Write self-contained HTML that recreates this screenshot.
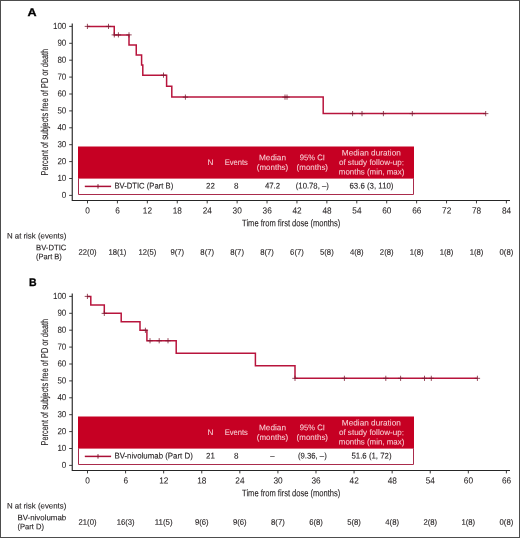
<!DOCTYPE html>
<html lang="en">
<head>
<meta charset="utf-8">
<title>Progression-free survival</title>
<style>
html,body{margin:0;padding:0;background:#fff;}
body{width:520px;height:538px;overflow:hidden;}
svg{display:block;font-family:'Liberation Sans', 'DejaVu Sans', sans-serif;}
</style>
</head>
<body>
<svg width="520" height="538" viewBox="0 0 520 538" fill="#231F20">
<rect x="0" y="0" width="520" height="538" fill="#fff"/>
<g transform="translate(0,0)">
<text transform="translate(27.50,15.90) rotate(0.05)" font-size="10.9" textLength="9.10" lengthAdjust="spacingAndGlyphs" fill="#000" font-weight="bold" stroke="#000" stroke-width="0.3">A</text>
<path d="M72.25 23.5V200.45H510" fill="none" stroke="#262626" stroke-width="1.15"/>
<path d="M69.2 26.40H72M69.2 43.30H72M69.2 60.20H72M69.2 77.10H72M69.2 94.00H72M69.2 110.90H72M69.2 127.80H72M69.2 144.70H72M69.2 161.60H72M69.2 178.50H72M69.2 195.40H72M87.50 200.5V203.4M117.42 200.5V203.4M147.34 200.5V203.4M177.26 200.5V203.4M207.19 200.5V203.4M237.11 200.5V203.4M267.03 200.5V203.4M296.95 200.5V203.4M326.87 200.5V203.4M356.79 200.5V203.4M386.71 200.5V203.4M416.64 200.5V203.4M446.56 200.5V203.4M476.48 200.5V203.4M506.40 200.5V203.4" fill="none" stroke="#262626" stroke-width="0.9"/>
<text transform="translate(66.30,28.95) rotate(0.05)" font-size="8.9" text-anchor="end" textLength="13.35" lengthAdjust="spacingAndGlyphs" stroke="#231F20" stroke-width="0.05">100</text>
<text transform="translate(66.30,45.85) rotate(0.05)" font-size="8.9" text-anchor="end" textLength="8.90" lengthAdjust="spacingAndGlyphs" stroke="#231F20" stroke-width="0.05">90</text>
<text transform="translate(66.30,62.75) rotate(0.05)" font-size="8.9" text-anchor="end" textLength="8.90" lengthAdjust="spacingAndGlyphs" stroke="#231F20" stroke-width="0.05">80</text>
<text transform="translate(66.30,79.65) rotate(0.05)" font-size="8.9" text-anchor="end" textLength="8.90" lengthAdjust="spacingAndGlyphs" stroke="#231F20" stroke-width="0.05">70</text>
<text transform="translate(66.30,96.55) rotate(0.05)" font-size="8.9" text-anchor="end" textLength="8.90" lengthAdjust="spacingAndGlyphs" stroke="#231F20" stroke-width="0.05">60</text>
<text transform="translate(66.30,113.45) rotate(0.05)" font-size="8.9" text-anchor="end" textLength="8.90" lengthAdjust="spacingAndGlyphs" stroke="#231F20" stroke-width="0.05">50</text>
<text transform="translate(66.30,130.35) rotate(0.05)" font-size="8.9" text-anchor="end" textLength="8.90" lengthAdjust="spacingAndGlyphs" stroke="#231F20" stroke-width="0.05">40</text>
<text transform="translate(66.30,147.25) rotate(0.05)" font-size="8.9" text-anchor="end" textLength="8.90" lengthAdjust="spacingAndGlyphs" stroke="#231F20" stroke-width="0.05">30</text>
<text transform="translate(66.30,164.15) rotate(0.05)" font-size="8.9" text-anchor="end" textLength="8.90" lengthAdjust="spacingAndGlyphs" stroke="#231F20" stroke-width="0.05">20</text>
<text transform="translate(66.30,181.05) rotate(0.05)" font-size="8.9" text-anchor="end" textLength="8.90" lengthAdjust="spacingAndGlyphs" stroke="#231F20" stroke-width="0.05">10</text>
<text transform="translate(66.30,197.95) rotate(0.05)" font-size="8.9" text-anchor="end" textLength="4.45" lengthAdjust="spacingAndGlyphs" stroke="#231F20" stroke-width="0.05">0</text>
<text transform="translate(87.60,213.45) rotate(0.05)" font-size="8.9" text-anchor="middle" textLength="4.60" lengthAdjust="spacingAndGlyphs" stroke="#231F20" stroke-width="0.05">0</text>
<text transform="translate(117.52,213.45) rotate(0.05)" font-size="8.9" text-anchor="middle" textLength="4.60" lengthAdjust="spacingAndGlyphs" stroke="#231F20" stroke-width="0.05">6</text>
<text transform="translate(147.44,213.45) rotate(0.05)" font-size="8.9" text-anchor="middle" textLength="9.20" lengthAdjust="spacingAndGlyphs" stroke="#231F20" stroke-width="0.05">12</text>
<text transform="translate(177.36,213.45) rotate(0.05)" font-size="8.9" text-anchor="middle" textLength="9.20" lengthAdjust="spacingAndGlyphs" stroke="#231F20" stroke-width="0.05">18</text>
<text transform="translate(207.29,213.45) rotate(0.05)" font-size="8.9" text-anchor="middle" textLength="9.20" lengthAdjust="spacingAndGlyphs" stroke="#231F20" stroke-width="0.05">24</text>
<text transform="translate(237.21,213.45) rotate(0.05)" font-size="8.9" text-anchor="middle" textLength="9.20" lengthAdjust="spacingAndGlyphs" stroke="#231F20" stroke-width="0.05">30</text>
<text transform="translate(267.13,213.45) rotate(0.05)" font-size="8.9" text-anchor="middle" textLength="9.20" lengthAdjust="spacingAndGlyphs" stroke="#231F20" stroke-width="0.05">36</text>
<text transform="translate(297.05,213.45) rotate(0.05)" font-size="8.9" text-anchor="middle" textLength="9.20" lengthAdjust="spacingAndGlyphs" stroke="#231F20" stroke-width="0.05">42</text>
<text transform="translate(326.97,213.45) rotate(0.05)" font-size="8.9" text-anchor="middle" textLength="9.20" lengthAdjust="spacingAndGlyphs" stroke="#231F20" stroke-width="0.05">48</text>
<text transform="translate(356.89,213.45) rotate(0.05)" font-size="8.9" text-anchor="middle" textLength="9.20" lengthAdjust="spacingAndGlyphs" stroke="#231F20" stroke-width="0.05">54</text>
<text transform="translate(386.81,213.45) rotate(0.05)" font-size="8.9" text-anchor="middle" textLength="9.20" lengthAdjust="spacingAndGlyphs" stroke="#231F20" stroke-width="0.05">60</text>
<text transform="translate(416.74,213.45) rotate(0.05)" font-size="8.9" text-anchor="middle" textLength="9.20" lengthAdjust="spacingAndGlyphs" stroke="#231F20" stroke-width="0.05">66</text>
<text transform="translate(446.66,213.45) rotate(0.05)" font-size="8.9" text-anchor="middle" textLength="9.20" lengthAdjust="spacingAndGlyphs" stroke="#231F20" stroke-width="0.05">72</text>
<text transform="translate(476.58,213.45) rotate(0.05)" font-size="8.9" text-anchor="middle" textLength="9.20" lengthAdjust="spacingAndGlyphs" stroke="#231F20" stroke-width="0.05">78</text>
<text transform="translate(506.50,213.45) rotate(0.05)" font-size="8.9" text-anchor="middle" textLength="9.20" lengthAdjust="spacingAndGlyphs" stroke="#231F20" stroke-width="0.05">84</text>
<text transform="translate(242.10,226.20) rotate(0.05)" font-size="9.5" textLength="98.20" lengthAdjust="spacingAndGlyphs" stroke="#231F20" stroke-width="0.12">Time from first dose (months)</text>
<text transform="translate(48,175.4) rotate(-89.95)" font-size="10" textLength="126.6" lengthAdjust="spacingAndGlyphs" stroke="#231F20" stroke-width="0.12">Percent of subjects free of PD or death</text>
<path d="M87.40 26.40H114.25V34.88H129.00V44.95H136.25V55.01H141.60V65.09H142.80V75.16H166.60V86.15H171.80V97.12H323.20V113.61H485.70" fill="none" stroke="#B8143C" stroke-width="1.5" stroke-linejoin="miter"/>
<path d="M87.40 23.80V29.00M84.70 26.40H90.10M108.50 23.80V29.00M105.80 26.40H111.20M114.30 32.28V37.48M111.60 34.88H117.00M118.40 32.28V37.48M115.70 34.88H121.10M129.00 32.28V37.48M126.30 34.88H131.70M163.50 72.56V77.76M160.80 75.16H166.20M185.40 94.52V99.72M182.70 97.12H188.10M285.00 94.52V99.72M282.30 97.12H287.70M287.00 94.52V99.72M284.30 97.12H289.70M352.60 111.01V116.21M349.90 113.61H355.30M362.00 111.01V116.21M359.30 113.61H364.70M383.40 111.01V116.21M380.70 113.61H386.10M412.30 111.01V116.21M409.60 113.61H415.00M485.70 111.01V116.21M483.00 113.61H488.40" fill="none" stroke="#7E1A32" stroke-width="0.8"/>
<rect x="78" y="146.5" width="336" height="48.5" fill="#fff"/>
<rect x="78" y="146.5" width="336" height="32.1" fill="#C60023"/>
<path d="M78.5 178.3V194.5H413.5V178.3" fill="none" stroke="#AA2C4C" stroke-width="1"/>
<path d="M84.8 186.4H111.1" fill="none" stroke="#AA0F36" stroke-width="1.5"/>
<path d="M98 184.2V188.6" fill="none" stroke="#7E1A32" stroke-width="1"/>
<text transform="translate(210.40,165.10) rotate(0.05)" font-size="8.1" text-anchor="middle" textLength="5.90" lengthAdjust="spacingAndGlyphs" fill="#F8CFD5" stroke="#F8CFD5" stroke-width="0.06">N</text>
<text transform="translate(236.30,165.10) rotate(0.05)" font-size="8.1" text-anchor="middle" textLength="23.20" lengthAdjust="spacingAndGlyphs" fill="#F8CFD5" stroke="#F8CFD5" stroke-width="0.06">Events</text>
<text transform="translate(272.50,160.25) rotate(0.05)" font-size="8.1" text-anchor="middle" textLength="27.00" lengthAdjust="spacingAndGlyphs" fill="#F8CFD5" stroke="#F8CFD5" stroke-width="0.06">Median</text>
<text transform="translate(272.50,170.10) rotate(0.05)" font-size="8.1" text-anchor="middle" textLength="31.40" lengthAdjust="spacingAndGlyphs" fill="#F8CFD5" stroke="#F8CFD5" stroke-width="0.06">(months)</text>
<text transform="translate(312.30,160.25) rotate(0.05)" font-size="8.1" text-anchor="middle" textLength="25.00" lengthAdjust="spacingAndGlyphs" fill="#F8CFD5" stroke="#F8CFD5" stroke-width="0.06">95% CI</text>
<text transform="translate(312.30,170.10) rotate(0.05)" font-size="8.1" text-anchor="middle" textLength="31.40" lengthAdjust="spacingAndGlyphs" fill="#F8CFD5" stroke="#F8CFD5" stroke-width="0.06">(months)</text>
<text transform="translate(371.30,155.60) rotate(0.05)" font-size="8.1" text-anchor="middle" textLength="59.00" lengthAdjust="spacingAndGlyphs" fill="#F8CFD5" stroke="#F8CFD5" stroke-width="0.06">Median duration</text>
<text transform="translate(371.40,165.10) rotate(0.05)" font-size="8.1" text-anchor="middle" textLength="65.00" lengthAdjust="spacingAndGlyphs" fill="#F8CFD5" stroke="#F8CFD5" stroke-width="0.06">of study follow-up:</text>
<text transform="translate(371.60,174.60) rotate(0.05)" font-size="8.1" text-anchor="middle" textLength="65.50" lengthAdjust="spacingAndGlyphs" fill="#F8CFD5" stroke="#F8CFD5" stroke-width="0.06">months (min, max)</text>
<text transform="translate(114.40,188.50) rotate(0.05)" font-size="8.2" textLength="58.80" lengthAdjust="spacingAndGlyphs" stroke="#231F20" stroke-width="0.12">BV-DTIC (Part B)</text>
<text transform="translate(210.40,188.50) rotate(0.05)" font-size="8.2" text-anchor="middle" textLength="8.80" lengthAdjust="spacingAndGlyphs" stroke="#231F20" stroke-width="0.12">22</text>
<text transform="translate(236.30,188.50) rotate(0.05)" font-size="8.2" text-anchor="middle" textLength="4.50" lengthAdjust="spacingAndGlyphs" stroke="#231F20" stroke-width="0.12">8</text>
<text transform="translate(272.50,188.50) rotate(0.05)" font-size="8.2" text-anchor="middle" textLength="15.20" lengthAdjust="spacingAndGlyphs" stroke="#231F20" stroke-width="0.12">47.2</text>
<text transform="translate(312.30,188.50) rotate(0.05)" font-size="8.2" text-anchor="middle" textLength="33.00" lengthAdjust="spacingAndGlyphs" stroke="#231F20" stroke-width="0.12">(10.78, –)</text>
<text transform="translate(371.50,188.50) rotate(0.05)" font-size="8.2" text-anchor="middle" textLength="44.00" lengthAdjust="spacingAndGlyphs" stroke="#231F20" stroke-width="0.12">63.6 (3, 110)</text>
<text transform="translate(6.90,238.45) rotate(0.05)" font-size="8.0" textLength="59.40" lengthAdjust="spacingAndGlyphs" stroke="#231F20" stroke-width="0.12">N at risk (events)</text>
<text transform="translate(36.00,250.20) rotate(0.05)" font-size="8.0" textLength="30.40" lengthAdjust="spacingAndGlyphs" stroke="#231F20" stroke-width="0.12">BV-DTIC</text>
<text transform="translate(36.00,259.30) rotate(0.05)" font-size="8.0" textLength="25.80" lengthAdjust="spacingAndGlyphs" stroke="#231F20" stroke-width="0.12">(Part B)</text>
<text transform="translate(87.50,254.70) rotate(0.05)" font-size="8.0" text-anchor="middle" textLength="17.90" lengthAdjust="spacingAndGlyphs" stroke="#231F20" stroke-width="0.12">22(0)</text>
<text transform="translate(117.42,254.70) rotate(0.05)" font-size="8.0" text-anchor="middle" textLength="17.90" lengthAdjust="spacingAndGlyphs" stroke="#231F20" stroke-width="0.12">18(1)</text>
<text transform="translate(147.34,254.70) rotate(0.05)" font-size="8.0" text-anchor="middle" textLength="17.90" lengthAdjust="spacingAndGlyphs" stroke="#231F20" stroke-width="0.12">12(5)</text>
<text transform="translate(177.26,254.70) rotate(0.05)" font-size="8.0" text-anchor="middle" textLength="13.70" lengthAdjust="spacingAndGlyphs" stroke="#231F20" stroke-width="0.12">9(7)</text>
<text transform="translate(207.19,254.70) rotate(0.05)" font-size="8.0" text-anchor="middle" textLength="13.70" lengthAdjust="spacingAndGlyphs" stroke="#231F20" stroke-width="0.12">8(7)</text>
<text transform="translate(237.11,254.70) rotate(0.05)" font-size="8.0" text-anchor="middle" textLength="13.70" lengthAdjust="spacingAndGlyphs" stroke="#231F20" stroke-width="0.12">8(7)</text>
<text transform="translate(267.03,254.70) rotate(0.05)" font-size="8.0" text-anchor="middle" textLength="13.70" lengthAdjust="spacingAndGlyphs" stroke="#231F20" stroke-width="0.12">8(7)</text>
<text transform="translate(296.95,254.70) rotate(0.05)" font-size="8.0" text-anchor="middle" textLength="13.70" lengthAdjust="spacingAndGlyphs" stroke="#231F20" stroke-width="0.12">6(7)</text>
<text transform="translate(326.87,254.70) rotate(0.05)" font-size="8.0" text-anchor="middle" textLength="13.70" lengthAdjust="spacingAndGlyphs" stroke="#231F20" stroke-width="0.12">5(8)</text>
<text transform="translate(356.79,254.70) rotate(0.05)" font-size="8.0" text-anchor="middle" textLength="13.70" lengthAdjust="spacingAndGlyphs" stroke="#231F20" stroke-width="0.12">4(8)</text>
<text transform="translate(386.71,254.70) rotate(0.05)" font-size="8.0" text-anchor="middle" textLength="13.70" lengthAdjust="spacingAndGlyphs" stroke="#231F20" stroke-width="0.12">2(8)</text>
<text transform="translate(416.64,254.70) rotate(0.05)" font-size="8.0" text-anchor="middle" textLength="13.70" lengthAdjust="spacingAndGlyphs" stroke="#231F20" stroke-width="0.12">1(8)</text>
<text transform="translate(446.56,254.70) rotate(0.05)" font-size="8.0" text-anchor="middle" textLength="13.70" lengthAdjust="spacingAndGlyphs" stroke="#231F20" stroke-width="0.12">1(8)</text>
<text transform="translate(476.48,254.70) rotate(0.05)" font-size="8.0" text-anchor="middle" textLength="13.70" lengthAdjust="spacingAndGlyphs" stroke="#231F20" stroke-width="0.12">1(8)</text>
<text transform="translate(506.40,254.70) rotate(0.05)" font-size="8.0" text-anchor="middle" textLength="13.70" lengthAdjust="spacingAndGlyphs" stroke="#231F20" stroke-width="0.12">0(8)</text>
</g>
<g transform="translate(0,270)">
<text transform="translate(28.90,15.90) rotate(0.05)" font-size="10.9" textLength="7.60" lengthAdjust="spacingAndGlyphs" fill="#000" font-weight="bold" stroke="#000" stroke-width="0.3">B</text>
<path d="M72.25 23.5V200.45H510" fill="none" stroke="#262626" stroke-width="1.15"/>
<path d="M69.2 26.40H72M69.2 43.30H72M69.2 60.20H72M69.2 77.10H72M69.2 94.00H72M69.2 110.90H72M69.2 127.80H72M69.2 144.70H72M69.2 161.60H72M69.2 178.50H72M69.2 195.40H72M87.50 200.5V203.4M125.58 200.5V203.4M163.66 200.5V203.4M201.75 200.5V203.4M239.83 200.5V203.4M277.91 200.5V203.4M315.99 200.5V203.4M354.07 200.5V203.4M392.15 200.5V203.4M430.24 200.5V203.4M468.32 200.5V203.4M506.40 200.5V203.4" fill="none" stroke="#262626" stroke-width="0.9"/>
<text transform="translate(66.30,28.95) rotate(0.05)" font-size="8.9" text-anchor="end" textLength="13.35" lengthAdjust="spacingAndGlyphs" stroke="#231F20" stroke-width="0.05">100</text>
<text transform="translate(66.30,45.85) rotate(0.05)" font-size="8.9" text-anchor="end" textLength="8.90" lengthAdjust="spacingAndGlyphs" stroke="#231F20" stroke-width="0.05">90</text>
<text transform="translate(66.30,62.75) rotate(0.05)" font-size="8.9" text-anchor="end" textLength="8.90" lengthAdjust="spacingAndGlyphs" stroke="#231F20" stroke-width="0.05">80</text>
<text transform="translate(66.30,79.65) rotate(0.05)" font-size="8.9" text-anchor="end" textLength="8.90" lengthAdjust="spacingAndGlyphs" stroke="#231F20" stroke-width="0.05">70</text>
<text transform="translate(66.30,96.55) rotate(0.05)" font-size="8.9" text-anchor="end" textLength="8.90" lengthAdjust="spacingAndGlyphs" stroke="#231F20" stroke-width="0.05">60</text>
<text transform="translate(66.30,113.45) rotate(0.05)" font-size="8.9" text-anchor="end" textLength="8.90" lengthAdjust="spacingAndGlyphs" stroke="#231F20" stroke-width="0.05">50</text>
<text transform="translate(66.30,130.35) rotate(0.05)" font-size="8.9" text-anchor="end" textLength="8.90" lengthAdjust="spacingAndGlyphs" stroke="#231F20" stroke-width="0.05">40</text>
<text transform="translate(66.30,147.25) rotate(0.05)" font-size="8.9" text-anchor="end" textLength="8.90" lengthAdjust="spacingAndGlyphs" stroke="#231F20" stroke-width="0.05">30</text>
<text transform="translate(66.30,164.15) rotate(0.05)" font-size="8.9" text-anchor="end" textLength="8.90" lengthAdjust="spacingAndGlyphs" stroke="#231F20" stroke-width="0.05">20</text>
<text transform="translate(66.30,181.05) rotate(0.05)" font-size="8.9" text-anchor="end" textLength="8.90" lengthAdjust="spacingAndGlyphs" stroke="#231F20" stroke-width="0.05">10</text>
<text transform="translate(66.30,197.95) rotate(0.05)" font-size="8.9" text-anchor="end" textLength="4.45" lengthAdjust="spacingAndGlyphs" stroke="#231F20" stroke-width="0.05">0</text>
<text transform="translate(87.60,213.45) rotate(0.05)" font-size="8.9" text-anchor="middle" textLength="4.60" lengthAdjust="spacingAndGlyphs" stroke="#231F20" stroke-width="0.05">0</text>
<text transform="translate(125.68,213.45) rotate(0.05)" font-size="8.9" text-anchor="middle" textLength="4.60" lengthAdjust="spacingAndGlyphs" stroke="#231F20" stroke-width="0.05">6</text>
<text transform="translate(163.76,213.45) rotate(0.05)" font-size="8.9" text-anchor="middle" textLength="9.20" lengthAdjust="spacingAndGlyphs" stroke="#231F20" stroke-width="0.05">12</text>
<text transform="translate(201.85,213.45) rotate(0.05)" font-size="8.9" text-anchor="middle" textLength="9.20" lengthAdjust="spacingAndGlyphs" stroke="#231F20" stroke-width="0.05">18</text>
<text transform="translate(239.93,213.45) rotate(0.05)" font-size="8.9" text-anchor="middle" textLength="9.20" lengthAdjust="spacingAndGlyphs" stroke="#231F20" stroke-width="0.05">24</text>
<text transform="translate(278.01,213.45) rotate(0.05)" font-size="8.9" text-anchor="middle" textLength="9.20" lengthAdjust="spacingAndGlyphs" stroke="#231F20" stroke-width="0.05">30</text>
<text transform="translate(316.09,213.45) rotate(0.05)" font-size="8.9" text-anchor="middle" textLength="9.20" lengthAdjust="spacingAndGlyphs" stroke="#231F20" stroke-width="0.05">36</text>
<text transform="translate(354.17,213.45) rotate(0.05)" font-size="8.9" text-anchor="middle" textLength="9.20" lengthAdjust="spacingAndGlyphs" stroke="#231F20" stroke-width="0.05">42</text>
<text transform="translate(392.25,213.45) rotate(0.05)" font-size="8.9" text-anchor="middle" textLength="9.20" lengthAdjust="spacingAndGlyphs" stroke="#231F20" stroke-width="0.05">48</text>
<text transform="translate(430.34,213.45) rotate(0.05)" font-size="8.9" text-anchor="middle" textLength="9.20" lengthAdjust="spacingAndGlyphs" stroke="#231F20" stroke-width="0.05">54</text>
<text transform="translate(468.42,213.45) rotate(0.05)" font-size="8.9" text-anchor="middle" textLength="9.20" lengthAdjust="spacingAndGlyphs" stroke="#231F20" stroke-width="0.05">60</text>
<text transform="translate(506.50,213.45) rotate(0.05)" font-size="8.9" text-anchor="middle" textLength="9.20" lengthAdjust="spacingAndGlyphs" stroke="#231F20" stroke-width="0.05">66</text>
<text transform="translate(242.10,226.20) rotate(0.05)" font-size="9.5" textLength="98.20" lengthAdjust="spacingAndGlyphs" stroke="#231F20" stroke-width="0.12">Time from first dose (months)</text>
<text transform="translate(48,175.4) rotate(-89.95)" font-size="10" textLength="126.6" lengthAdjust="spacingAndGlyphs" stroke="#231F20" stroke-width="0.12">Percent of subjects free of PD or death</text>
<path d="M87.40 26.40H90.80V34.88H104.30V43.36H121.20V51.84H140.00V60.32H146.90V70.75H176.20V83.28H255.40V95.80H295.00V108.33H477.40" fill="none" stroke="#B8143C" stroke-width="1.5" stroke-linejoin="miter"/>
<path d="M87.40 23.80V29.00M84.70 26.40H90.10M104.30 40.76V45.96M101.60 43.36H107.00M145.40 57.72V62.92M142.70 60.32H148.10M150.00 68.15V73.35M147.30 70.75H152.70M159.20 68.15V73.35M156.50 70.75H161.90M168.00 68.15V73.35M165.30 70.75H170.70M295.00 105.73V110.93M292.30 108.33H297.70M344.40 105.73V110.93M341.70 108.33H347.10M385.80 105.73V110.93M383.10 108.33H388.50M400.60 105.73V110.93M397.90 108.33H403.30M424.50 105.73V110.93M421.80 108.33H427.20M431.30 105.73V110.93M428.60 108.33H434.00M477.40 105.73V110.93M474.70 108.33H480.10" fill="none" stroke="#7E1A32" stroke-width="0.8"/>
<rect x="78" y="146.5" width="336" height="48.5" fill="#fff"/>
<rect x="78" y="146.5" width="336" height="32.1" fill="#C60023"/>
<path d="M78.5 178.3V194.5H413.5V178.3" fill="none" stroke="#AA2C4C" stroke-width="1"/>
<path d="M84.8 186.4H111.1" fill="none" stroke="#AA0F36" stroke-width="1.5"/>
<path d="M98 184.2V188.6" fill="none" stroke="#7E1A32" stroke-width="1"/>
<text transform="translate(210.40,165.10) rotate(0.05)" font-size="8.1" text-anchor="middle" textLength="5.90" lengthAdjust="spacingAndGlyphs" fill="#F8CFD5" stroke="#F8CFD5" stroke-width="0.06">N</text>
<text transform="translate(236.30,165.10) rotate(0.05)" font-size="8.1" text-anchor="middle" textLength="23.20" lengthAdjust="spacingAndGlyphs" fill="#F8CFD5" stroke="#F8CFD5" stroke-width="0.06">Events</text>
<text transform="translate(272.50,160.25) rotate(0.05)" font-size="8.1" text-anchor="middle" textLength="27.00" lengthAdjust="spacingAndGlyphs" fill="#F8CFD5" stroke="#F8CFD5" stroke-width="0.06">Median</text>
<text transform="translate(272.50,170.10) rotate(0.05)" font-size="8.1" text-anchor="middle" textLength="31.40" lengthAdjust="spacingAndGlyphs" fill="#F8CFD5" stroke="#F8CFD5" stroke-width="0.06">(months)</text>
<text transform="translate(312.30,160.25) rotate(0.05)" font-size="8.1" text-anchor="middle" textLength="25.00" lengthAdjust="spacingAndGlyphs" fill="#F8CFD5" stroke="#F8CFD5" stroke-width="0.06">95% CI</text>
<text transform="translate(312.30,170.10) rotate(0.05)" font-size="8.1" text-anchor="middle" textLength="31.40" lengthAdjust="spacingAndGlyphs" fill="#F8CFD5" stroke="#F8CFD5" stroke-width="0.06">(months)</text>
<text transform="translate(371.30,155.60) rotate(0.05)" font-size="8.1" text-anchor="middle" textLength="59.00" lengthAdjust="spacingAndGlyphs" fill="#F8CFD5" stroke="#F8CFD5" stroke-width="0.06">Median duration</text>
<text transform="translate(371.40,165.10) rotate(0.05)" font-size="8.1" text-anchor="middle" textLength="65.00" lengthAdjust="spacingAndGlyphs" fill="#F8CFD5" stroke="#F8CFD5" stroke-width="0.06">of study follow-up:</text>
<text transform="translate(371.60,174.60) rotate(0.05)" font-size="8.1" text-anchor="middle" textLength="65.50" lengthAdjust="spacingAndGlyphs" fill="#F8CFD5" stroke="#F8CFD5" stroke-width="0.06">months (min, max)</text>
<text transform="translate(114.40,188.50) rotate(0.05)" font-size="8.2" textLength="78.40" lengthAdjust="spacingAndGlyphs" stroke="#231F20" stroke-width="0.12">BV-nivolumab (Part D)</text>
<text transform="translate(210.40,188.50) rotate(0.05)" font-size="8.2" text-anchor="middle" textLength="8.80" lengthAdjust="spacingAndGlyphs" stroke="#231F20" stroke-width="0.12">21</text>
<text transform="translate(236.30,188.50) rotate(0.05)" font-size="8.2" text-anchor="middle" textLength="4.50" lengthAdjust="spacingAndGlyphs" stroke="#231F20" stroke-width="0.12">8</text>
<text transform="translate(272.50,188.50) rotate(0.05)" font-size="8.2" text-anchor="middle" textLength="4.30" lengthAdjust="spacingAndGlyphs" stroke="#231F20" stroke-width="0.12">–</text>
<text transform="translate(312.30,188.50) rotate(0.05)" font-size="8.2" text-anchor="middle" textLength="28.80" lengthAdjust="spacingAndGlyphs" stroke="#231F20" stroke-width="0.12">(9.36, –)</text>
<text transform="translate(371.50,188.50) rotate(0.05)" font-size="8.2" text-anchor="middle" textLength="40.00" lengthAdjust="spacingAndGlyphs" stroke="#231F20" stroke-width="0.12">51.6 (1, 72)</text>
<text transform="translate(6.90,238.45) rotate(0.05)" font-size="8.0" textLength="59.40" lengthAdjust="spacingAndGlyphs" stroke="#231F20" stroke-width="0.12">N at risk (events)</text>
<text transform="translate(17.40,250.20) rotate(0.05)" font-size="8.0" textLength="48.80" lengthAdjust="spacingAndGlyphs" stroke="#231F20" stroke-width="0.12">BV-nivolumab</text>
<text transform="translate(17.40,259.30) rotate(0.05)" font-size="8.0" textLength="26.50" lengthAdjust="spacingAndGlyphs" stroke="#231F20" stroke-width="0.12">(Part D)</text>
<text transform="translate(87.50,254.70) rotate(0.05)" font-size="8.0" text-anchor="middle" textLength="17.90" lengthAdjust="spacingAndGlyphs" stroke="#231F20" stroke-width="0.12">21(0)</text>
<text transform="translate(125.58,254.70) rotate(0.05)" font-size="8.0" text-anchor="middle" textLength="17.90" lengthAdjust="spacingAndGlyphs" stroke="#231F20" stroke-width="0.12">16(3)</text>
<text transform="translate(163.66,254.70) rotate(0.05)" font-size="8.0" text-anchor="middle" textLength="17.90" lengthAdjust="spacingAndGlyphs" stroke="#231F20" stroke-width="0.12">11(5)</text>
<text transform="translate(201.75,254.70) rotate(0.05)" font-size="8.0" text-anchor="middle" textLength="13.70" lengthAdjust="spacingAndGlyphs" stroke="#231F20" stroke-width="0.12">9(6)</text>
<text transform="translate(239.83,254.70) rotate(0.05)" font-size="8.0" text-anchor="middle" textLength="13.70" lengthAdjust="spacingAndGlyphs" stroke="#231F20" stroke-width="0.12">9(6)</text>
<text transform="translate(277.91,254.70) rotate(0.05)" font-size="8.0" text-anchor="middle" textLength="13.70" lengthAdjust="spacingAndGlyphs" stroke="#231F20" stroke-width="0.12">8(7)</text>
<text transform="translate(315.99,254.70) rotate(0.05)" font-size="8.0" text-anchor="middle" textLength="13.70" lengthAdjust="spacingAndGlyphs" stroke="#231F20" stroke-width="0.12">6(8)</text>
<text transform="translate(354.07,254.70) rotate(0.05)" font-size="8.0" text-anchor="middle" textLength="13.70" lengthAdjust="spacingAndGlyphs" stroke="#231F20" stroke-width="0.12">5(8)</text>
<text transform="translate(392.15,254.70) rotate(0.05)" font-size="8.0" text-anchor="middle" textLength="13.70" lengthAdjust="spacingAndGlyphs" stroke="#231F20" stroke-width="0.12">4(8)</text>
<text transform="translate(430.24,254.70) rotate(0.05)" font-size="8.0" text-anchor="middle" textLength="13.70" lengthAdjust="spacingAndGlyphs" stroke="#231F20" stroke-width="0.12">2(8)</text>
<text transform="translate(468.32,254.70) rotate(0.05)" font-size="8.0" text-anchor="middle" textLength="13.70" lengthAdjust="spacingAndGlyphs" stroke="#231F20" stroke-width="0.12">1(8)</text>
<text transform="translate(506.40,254.70) rotate(0.05)" font-size="8.0" text-anchor="middle" textLength="13.70" lengthAdjust="spacingAndGlyphs" stroke="#231F20" stroke-width="0.12">0(8)</text>
</g>
<rect x="0.5" y="0.5" width="519" height="537" fill="none" stroke="#4d4d4d" stroke-width="1"/>
</svg>
</body>
</html>
